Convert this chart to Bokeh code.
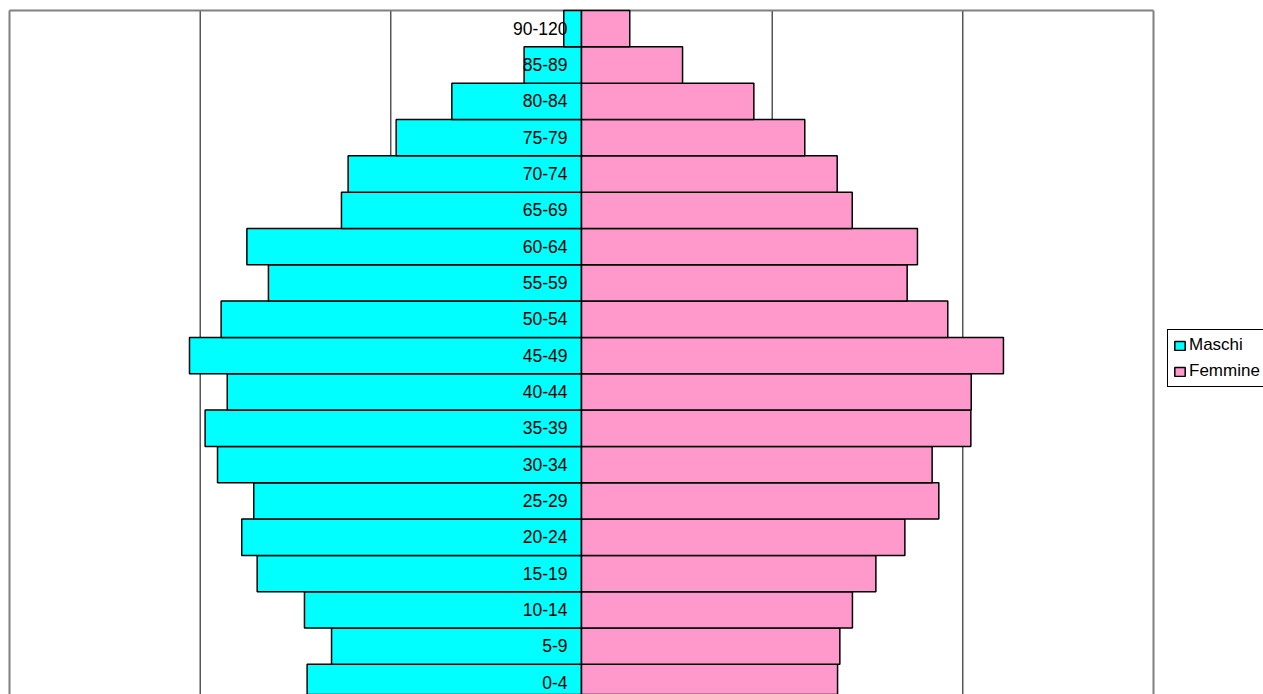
from bokeh.plotting import figure
from bokeh.models import Range1d, Legend, LegendItem, ColumnDataSource
from bokeh.core.properties import value
from bokeh.embed import file_html
from bokeh.resources import INLINE

# Age classes (bottom to top)
age_classes = ["0-4", "5-9", "10-14", "15-19", "20-24", "25-29", "30-34", "35-39",
               "40-44", "45-49", "50-54", "55-59", "60-64", "65-69", "70-74",
               "75-79", "80-84", "85-89", "90-120"]
maschi = [143.9, 131.1, 145.3, 170.1, 178.2, 171.9, 190.9, 197.4,
          185.8, 205.6, 189.0, 164.2, 175.5, 125.9, 122.4,
          97.2, 68.0, 30.1, 9.3]
femmine = [134.3, 135.5, 142.1, 154.4, 169.6, 187.4, 183.9, 204.2,
           204.4, 221.3, 192.1, 170.8, 176.2, 142.0, 134.1,
           117.1, 90.4, 53.0, 25.3]
grid_ticks = [-200, -100, 100, 200]

# plot-area limits (data units)
X_MIN, X_MAX = -300, 300
Y_TOP, Y_BOT = 18.5, -0.33

W, H = 1263, 694
AREA_LEFT, AREA_W, AREA_TOP = 9, 1144, 10
ux = (X_MAX - X_MIN) / AREA_W
uy = (Y_TOP - Y_BOT) / (H - AREA_TOP)

idx = list(range(len(age_classes)))
src = ColumnDataSource(dict(
    y=idx,
    label=age_classes,
    m_left=[-v for v in maschi],
    f_right=femmine,
    zero=[0] * len(idx),
))

p = figure(width=W, height=H, output_backend="svg", toolbar_location=None,
           x_axis_location=None, y_axis_location=None,
           x_range=Range1d(X_MIN - AREA_LEFT * ux, X_MAX + (W - AREA_LEFT - AREA_W) * ux),
           y_range=Range1d(Y_BOT, Y_TOP + AREA_TOP * uy),
           min_border=0)
p.background_fill_color = "white"
p.border_fill_color = "white"
p.outline_line_color = None
p.grid.visible = False

# vertical grid lines
p.segment(x0=grid_ticks, y0=[Y_BOT] * len(grid_ticks), x1=grid_ticks, y1=[Y_TOP] * len(grid_ticks),
          line_color="black", line_width=1)
# plot-area border (left, top, right)
p.segment(x0=[X_MIN, X_MIN, X_MAX], y0=[Y_BOT, Y_TOP, Y_TOP],
          x1=[X_MIN, X_MAX, X_MAX], y1=[Y_TOP, Y_TOP, Y_BOT],
          line_color="#808080", line_width=2)

rm = p.hbar(y="y", left="m_left", right="zero", height=1, source=src,
            fill_color="#00FFFF", line_color="black", line_width=1.5)
rf = p.hbar(y="y", left="zero", right="f_right", height=1, source=src,
            fill_color="#FF99CC", line_color="black", line_width=1.5)

p.text(x="zero", y="y", text="label", source=src, x_offset=-14, y_offset=-0.5,
       text_align="right", text_baseline="middle",
       text_font=value("Liberation Sans"), text_font_size="17.5px", text_color="black")

legend = Legend(items=[LegendItem(label="Maschi", renderers=[rm]),
                       LegendItem(label="Femmine", renderers=[rf])],
                location=(1167, H - 387), orientation="vertical",
                glyph_width=13, glyph_height=11, label_standoff=3,
                label_height=20, padding=5, spacing=6, margin=0,
                label_text_font="Liberation Sans", label_text_font_size="17px",
                label_text_color="black",
                border_line_color="black", border_line_width=1, border_line_alpha=1.0,
                background_fill_color="white", background_fill_alpha=1.0)
p.add_layout(legend)

open("out.html", "w").write(file_html(p, INLINE))
